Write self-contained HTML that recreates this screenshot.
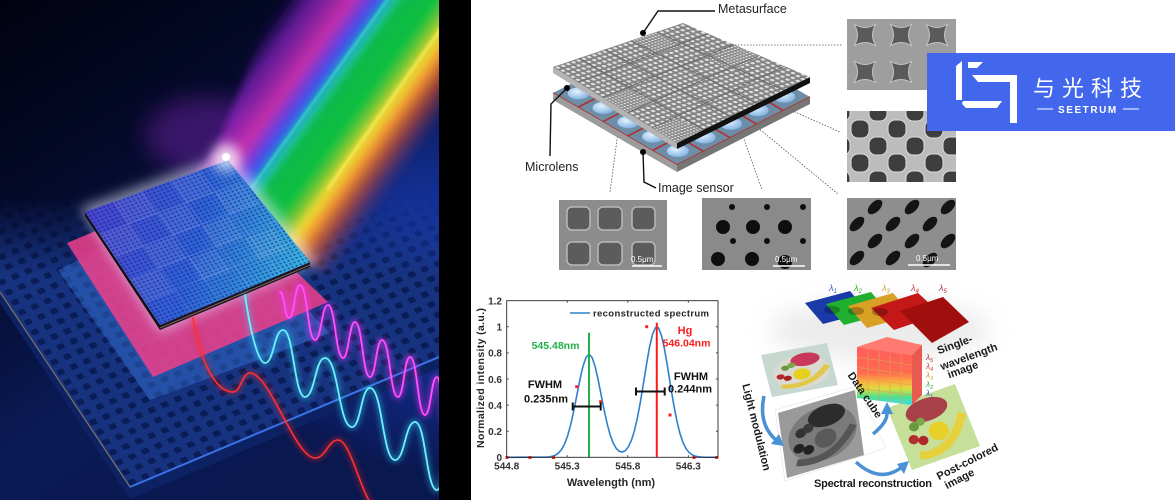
<!DOCTYPE html>
<html><head><meta charset="utf-8">
<style>
html,body{margin:0;padding:0;background:#fff;}
svg{display:block}
text{font-family:"Liberation Sans","Noto Sans CJK SC",sans-serif;}
</style></head><body>
<svg width="1175" height="500" viewBox="0 0 1175 500" xmlns="http://www.w3.org/2000/svg">
<defs>
  <clipPath id="clipL"><rect x="0" y="0" width="439" height="500"/></clipPath>
  <linearGradient id="bgL" x1="0" y1="0" x2="0.55" y2="1">
    <stop offset="0" stop-color="#010210"/>
    <stop offset="0.35" stop-color="#040a2a"/>
    <stop offset="0.7" stop-color="#0a1a55"/>
    <stop offset="1" stop-color="#0a1850"/>
  </linearGradient>
  <radialGradient id="blueGlow" cx="430" cy="270" r="200" gradientUnits="userSpaceOnUse">
    <stop offset="0" stop-color="#1c42c4" stop-opacity="0.95"/>
    <stop offset="0.5" stop-color="#1636a8" stop-opacity="0.6"/>
    <stop offset="1" stop-color="#1838b8" stop-opacity="0"/>
  </radialGradient>
  <linearGradient id="beam" gradientUnits="userSpaceOnUse" x1="186.5" y1="134.3" x2="356.8" y2="257">
    <stop offset="0" stop-color="#5010a0" stop-opacity="0"/>
    <stop offset="0.1" stop-color="#8020c0" stop-opacity="0.7"/>
    <stop offset="0.26" stop-color="#d030b0" stop-opacity="0.95"/>
    <stop offset="0.333" stop-color="#6040e0"/>
    <stop offset="0.38" stop-color="#2a60e8"/>
    <stop offset="0.42" stop-color="#20c8b0"/>
    <stop offset="0.46" stop-color="#10b848"/>
    <stop offset="0.595" stop-color="#10c040"/>
    <stop offset="0.667" stop-color="#90c830"/>
    <stop offset="0.7" stop-color="#f0e030"/>
    <stop offset="0.762" stop-color="#f09030"/>
    <stop offset="0.833" stop-color="#d05030" stop-opacity="0.7"/>
    <stop offset="0.95" stop-color="#803060" stop-opacity="0"/>
  </linearGradient>
  <linearGradient id="chipFace" gradientUnits="userSpaceOnUse" x1="85" y1="212" x2="310" y2="262">
    <stop offset="0" stop-color="#4a44d0"/>
    <stop offset="0.5" stop-color="#2f62d8"/>
    <stop offset="1" stop-color="#38b8e0"/>
  </linearGradient>
  <linearGradient id="maskGrad" x1="0" y1="195" x2="0" y2="275" gradientUnits="userSpaceOnUse">
    <stop offset="0" stop-color="#000"/>
    <stop offset="1" stop-color="#fff"/>
  </linearGradient>
  <mask id="slabMask" maskUnits="userSpaceOnUse" x="0" y="0" width="439" height="500">
    <rect x="0" y="0" width="439" height="500" fill="url(#maskGrad)"/>
  </mask>
  <pattern id="slabDots" patternUnits="userSpaceOnUse" width="10" height="10" patternTransform="matrix(1.3,-0.55,0.65,1.0,0,290)">
    <rect width="10" height="10" fill="#17337f"/>
    <rect x="2" y="2" width="5" height="5" rx="1" fill="#0b1d58"/>
  </pattern>
  <pattern id="chipDots" patternUnits="userSpaceOnUse" width="4" height="4" patternTransform="matrix(1,-0.363,0.52,0.785,85,212)">
    <circle cx="2" cy="2" r="1.1" fill="#101a70" fill-opacity="0.55"/>
  </pattern>
  <pattern id="plateDots" patternUnits="userSpaceOnUse" width="10" height="10" patternTransform="matrix(0.52,-0.176,0.496,0.304,553,67)">
    <rect width="10" height="10" fill="#848484"/>
    <circle cx="5" cy="5" r="3.1" fill="#e2e2e2"/>
  </pattern>
  <pattern id="plateDots2" patternUnits="userSpaceOnUse" width="6" height="6" patternTransform="matrix(0.52,-0.176,0.496,0.304,553,67)">
    <rect width="6" height="6" fill="#8a8a8a"/>
    <circle cx="3" cy="3" r="1.8" fill="#e8e8e8"/>
  </pattern>
  <filter id="blur6" x="-50%" y="-50%" width="200%" height="200%"><feGaussianBlur stdDeviation="6"/></filter>
  <filter id="blur4" x="-50%" y="-50%" width="200%" height="200%"><feGaussianBlur stdDeviation="4"/></filter>
  <filter id="blur3" x="-50%" y="-50%" width="200%" height="200%"><feGaussianBlur stdDeviation="3"/></filter>
  <filter id="blur1" x="-50%" y="-50%" width="200%" height="200%"><feGaussianBlur stdDeviation="1.2"/></filter>
  <filter id="blur12" x="-50%" y="-50%" width="200%" height="200%"><feGaussianBlur stdDeviation="12"/></filter>
  <linearGradient id="cubeFront" x1="0" y1="0" x2="0" y2="1">
    <stop offset="0" stop-color="#ff5c5c"/>
    <stop offset="0.45" stop-color="#ff6a50"/>
    <stop offset="0.6" stop-color="#ffae40"/>
    <stop offset="0.72" stop-color="#d8e040"/>
    <stop offset="0.86" stop-color="#50e090"/>
    <stop offset="1" stop-color="#40dce8"/>
  </linearGradient>
  <radialGradient id="lens" cx="0.4" cy="0.35" r="0.7">
    <stop offset="0" stop-color="#e4f2ff"/>
    <stop offset="1" stop-color="#7eb0e0"/>
  </radialGradient>
</defs>

<rect width="1175" height="500" fill="#fff"/>

<!-- ============ LEFT ILLUSTRATION ============ -->
<g clip-path="url(#clipL)">
  <rect x="0" y="0" width="439" height="500" fill="url(#bgL)"/>
  <rect x="0" y="0" width="439" height="500" fill="url(#blueGlow)"/>
  <polygon points="0,190 439,190 439,357 130,487 0,292" fill="url(#slabDots)" mask="url(#slabMask)"/>
  <polygon points="0,292 130,487 439,357 439,368 130,499 0,303" fill="#0c2262"/>
  <polyline points="0,292 130,487" stroke="#b09060" stroke-width="1.2" fill="none" opacity="0.7"/>
  <polyline points="130,487 439,357" stroke="#3a72e8" stroke-width="2" fill="none"/>
  <ellipse cx="205" cy="135" rx="60" ry="38" fill="#7a20b0" opacity="0.45" filter="url(#blur12)"/>
  <!-- beam -->
  <polygon points="195,175 215,150 280,-10 475,-10 475,185 330,278 312,265" fill="url(#beam)" filter="url(#blur4)"/>
  <line x1="393" y1="-8" x2="250" y2="190" stroke="#40f0c0" stroke-width="2" opacity="0.8" filter="url(#blur1)"/>
  <line x1="447" y1="20" x2="327" y2="190" stroke="#fff060" stroke-width="2.5" opacity="0.85" filter="url(#blur1)"/>
  <!-- blue layer -->
  <polygon points="58,270 200,200 330,333 150,400" fill="#3a7ae0" opacity="0.42"/>
  <!-- pink layer -->
  <polygon points="67,243 205,185 328,302 153,377" fill="#ee3f8a" opacity="0.85"/>
  <polygon points="80,208 230,152 318,262 160,333" fill="#e8e8ff" opacity="0.55" filter="url(#blur6)"/>
  <!-- chip -->
  <polygon points="85,212 160,325 160,330 85,216" fill="#111"/>
  <polygon points="160,325 310,262 310,267 160,330" fill="#151530"/>
  <polyline points="160,328 310,265" stroke="#e0a040" stroke-width="0.8" opacity="0.7"/>
  <polygon points="85,212 228,160 310,262 160,325" fill="url(#chipFace)"/>
  <g fill="#ffffff" opacity="0.08">
    <polygon points="113.6,201.6 142.2,191.2 157.2,213.8 128.6,224.2"/>
    <polygon points="170.8,180.8 199.4,170.4 214.4,193 185.8,203.4"/>
    <polygon points="100,234.6 128.6,224.2 143.6,246.8 115,257.2"/>
    <polygon points="157.2,213.8 185.8,203.4 200.8,226 172.2,236.4"/>
    <polygon points="214.4,193 243,182.6 258,205.2 229.4,215.6"/>
    <polygon points="143.6,246.8 172.2,236.4 187.2,259 158.6,269.4"/>
    <polygon points="200.8,226 229.4,215.6 244.4,238.2 215.8,248.6"/>
    <polygon points="130,279.8 158.6,269.4 173.6,292 145,302.4"/>
    <polygon points="187.2,259 215.8,248.6 230.8,271.2 202.2,281.6"/>
    <polygon points="244.4,238.2 273,227.8 288,250.4 259.4,260.8"/>
  </g>
  <polygon points="85,212 228,160 310,262 160,325" fill="url(#chipDots)"/>
  <g stroke="#c0d8ff" stroke-opacity="0.18" stroke-width="0.8">
    <line x1="113.6" y1="201.6" x2="190" y2="312.4"/>
    <line x1="142.2" y1="191.2" x2="220" y2="299.8"/>
    <line x1="170.8" y1="180.8" x2="250" y2="287.2"/>
    <line x1="199.4" y1="170.4" x2="280" y2="274.6"/>
    <line x1="100" y1="234.6" x2="244.4" y2="180.4"/>
    <line x1="115" y1="257.2" x2="260.8" y2="200.8"/>
    <line x1="130" y1="279.8" x2="277.2" y2="221.2"/>
    <line x1="145" y1="302.4" x2="293.6" y2="241.6"/>
  </g>
  <circle cx="226" cy="157" r="14" fill="#ffffff" opacity="0.7" filter="url(#blur6)"/>
  <circle cx="226" cy="157" r="4" fill="#ffffff"/>
  <g fill="none" stroke-linecap="round">
    <path d="M280,292 C284.5,292 284.5,318 289,318 C294.5,318 294.5,285 300,285 C307.5,285 307.5,340 315,340 C321.5,340 321.5,305 328,305 C335.5,305 335.5,358 343,358 C349,358 349,322 355,322 C362.5,322 362.5,377 370,377 C376,377 376,340 382,340 C390,340 390,397 398,397 C404,397 404,357 410,357 C417.5,357 417.5,415 425,415 C431,415 431,377 437,377 C442,377 442,430 447,430" stroke="#ff30ff" stroke-width="5" opacity="0.5" filter="url(#blur3)"/>
    <path d="M280,292 C284.5,292 284.5,318 289,318 C294.5,318 294.5,285 300,285 C307.5,285 307.5,340 315,340 C321.5,340 321.5,305 328,305 C335.5,305 335.5,358 343,358 C349,358 349,322 355,322 C362.5,322 362.5,377 370,377 C376,377 376,340 382,340 C390,340 390,397 398,397 C404,397 404,357 410,357 C417.5,357 417.5,415 425,415 C431,415 431,377 437,377 C442,377 442,430 447,430" stroke="#ff50ff" stroke-width="1.8"/>
    <path d="M245,295 C250,330 258,363 265,363 C274,363 274,330 283,330 C294,330 294,397 305,397 C315,397 315,358 325,358 C338.5,358 338.5,427 352,427 C361,427 361,388 370,388 C382.5,388 382.5,460 395,460 C405,460 405,422 415,422 C426,422 426,490 437,490 C443,490 443,460 450,460" stroke="#30e0ff" stroke-width="5" opacity="0.45" filter="url(#blur3)"/>
    <path d="M245,295 C250,330 258,363 265,363 C274,363 274,330 283,330 C294,330 294,397 305,397 C315,397 315,358 325,358 C338.5,358 338.5,427 352,427 C361,427 361,388 370,388 C382.5,388 382.5,460 395,460 C405,460 405,422 415,422 C426,422 426,490 437,490 C443,490 443,460 450,460" stroke="#6cf0ff" stroke-width="1.8"/>
    <path d="M193,318 C200,360 215,392 233,392 C241,392 242,373 250,373 C270,373 295,458 315,458 C326,458 328,440 338,440 C350,440 360,490 372,505" stroke="#ff2020" stroke-width="4" opacity="0.5" filter="url(#blur3)"/>
    <path d="M193,318 C200,360 215,392 233,392 C241,392 242,373 250,373 C270,373 295,458 315,458 C326,458 328,440 338,440 C350,440 360,490 372,505" stroke="#ff3030" stroke-width="1.6"/>
  </g>
</g>

<rect x="439" y="0" width="32" height="500" fill="#000"/>

<!-- ============ METASURFACE DIAGRAM ============ -->
<g stroke="#555" stroke-width="0.8" stroke-dasharray="1.5,1.5" fill="none">
  <line x1="627" y1="45" x2="843" y2="45"/>
  <line x1="660" y1="52" x2="840" y2="132"/>
  <line x1="700" y1="80" x2="838" y2="194"/>
  <line x1="730" y1="100" x2="762" y2="190"/>
  <line x1="623" y1="95" x2="610" y2="192"/>
</g>
<polygon points="553,93 686,25 810,97 677,165" fill="#6d8ea6"/>
<g stroke="#b03030" stroke-width="1.6">
  <line x1="553" y1="93" x2="677" y2="165"/>
  <line x1="677" y1="165" x2="810" y2="97"/>
  <line x1="577.8" y1="107.4" x2="711" y2="39.4"/>
  <line x1="602.6" y1="121.8" x2="735.8" y2="53.8"/>
  <line x1="627.4" y1="136.2" x2="760.6" y2="68.2"/>
  <line x1="652.2" y1="150.6" x2="785.4" y2="82.6"/>
  <line x1="703.6" y1="151.4" x2="579.6" y2="79.4"/>
  <line x1="730.2" y1="137.8" x2="606.2" y2="65.8"/>
  <line x1="756.8" y1="124.2" x2="632.8" y2="52.2"/>
  <line x1="783.4" y1="110.6" x2="659.4" y2="38.6"/>
</g>
<g fill="url(#lens)">
  <ellipse cx="578.7" cy="93.4" rx="11" ry="6"/>
  <ellipse cx="603.5" cy="107.8" rx="11" ry="6"/>
  <ellipse cx="628.3" cy="122.2" rx="11" ry="6"/>
  <ellipse cx="653.1" cy="136.6" rx="11" ry="6"/>
  <ellipse cx="677.9" cy="151" rx="11" ry="6"/>
  <ellipse cx="704.5" cy="137.4" rx="11" ry="6"/>
  <ellipse cx="731.1" cy="123.8" rx="11" ry="6"/>
  <ellipse cx="757.7" cy="110.2" rx="11" ry="6"/>
  <ellipse cx="784.3" cy="96.6" rx="11" ry="6"/>
</g>
<polygon points="553,93 677,165 677,172 553,100" fill="#9c9c9c"/>
<polygon points="677,165 810,97 810,104 677,172" fill="#767676"/>
<polygon points="553,67 677,143 677,149 553,73" fill="#b4b4b4"/>
<polygon points="677,143 810,77 810,83 677,149" fill="#111"/>
<polygon points="553,67 683,23 810,77 677,143" fill="url(#plateDots)"/>
<g fill="url(#plateDots2)">
  <polygon points="631,40.6 657,31.8 681.8,47 655.8,55.8"/>
  <polygon points="602.6,97.4 628.6,88.6 653.6,103 627.4,112.6"/>
  <polygon points="733.8,44.6 759.2,55.4 734.4,70.6 708.4,59.8"/>
  <polygon points="652.2,127.8 678.2,119 703.6,129.8 677,143"/>
</g>
<g stroke="#6a6a6a" stroke-width="1">
  <line x1="579" y1="58.2" x2="703.6" y2="129.8"/>
  <line x1="605" y1="49.4" x2="730.2" y2="116.6"/>
  <line x1="631" y1="40.6" x2="756.8" y2="103.4"/>
  <line x1="657" y1="31.8" x2="783.4" y2="90.2"/>
  <line x1="577.8" y1="82.2" x2="708.4" y2="33.8"/>
  <line x1="602.6" y1="97.4" x2="733.8" y2="44.6"/>
  <line x1="627.4" y1="112.6" x2="759.2" y2="55.4"/>
  <line x1="652.2" y1="127.8" x2="784.6" y2="66.2"/>
</g>
<g stroke="#111" stroke-width="1.4" fill="none">
  <polyline points="715,11 658,11 643,33"/>
  <polyline points="567,88 551,104 550,156"/>
  <polyline points="643,152 644,182 656,188"/>
</g>
<circle cx="643" cy="33" r="3" fill="#000"/>
<circle cx="567" cy="88" r="3" fill="#000"/>
<circle cx="643" cy="152" r="3" fill="#000"/>
<text x="718" y="13" font-size="12.5" fill="#222">Metasurface</text>
<text x="525" y="171" font-size="12.5" fill="#222">Microlens</text>
<text x="658" y="192" font-size="12.5" fill="#222">Image sensor</text>

<g>
  <rect x="559" y="200" width="108" height="70" fill="#8c8c8c"/>
  <g fill="#5c5c5c" stroke="#b8b8b8" stroke-width="1.5">
    <rect x="567" y="207" width="23" height="23" rx="5"/>
    <rect x="598" y="207" width="24" height="23" rx="5"/>
    <rect x="632" y="207" width="23" height="23" rx="5"/>
    <rect x="567" y="242" width="23" height="23" rx="5"/>
    <rect x="598" y="242" width="24" height="23" rx="5"/>
    <rect x="632" y="242" width="23" height="23" rx="5"/>
  </g>
  <line x1="632" y1="266" x2="662" y2="266" stroke="#fff" stroke-width="1.5"/>
  <text x="631" y="262" font-size="8" fill="#fff">0.5μm</text>
</g>
<g>
  <rect x="702" y="198" width="109" height="72" fill="#8a8a8a"/>
  <g fill="#0e0e0e">
    <circle cx="723" cy="227" r="7"/><circle cx="753" cy="227" r="7"/><circle cx="785" cy="227" r="7"/>
    <circle cx="718" cy="259" r="7"/><circle cx="752" cy="259" r="7"/><circle cx="785" cy="262" r="7"/>
    <circle cx="732" cy="207" r="3"/><circle cx="767" cy="207" r="3"/><circle cx="803" cy="207" r="3"/>
    <circle cx="733" cy="241" r="3"/><circle cx="767" cy="241" r="3"/><circle cx="803" cy="241" r="3"/>
  </g>
  <line x1="773" y1="266" x2="805" y2="266" stroke="#fff" stroke-width="1.5"/>
  <text x="775" y="262" font-size="8" fill="#fff">0.5μm</text>
</g>
<g>
  <rect x="847" y="19" width="109" height="71" fill="#9e9e9e"/>
  <g fill="#5a5a5a" stroke="#c4c4c4" stroke-width="1">
    <path transform="translate(865,35)" d="M-11,-11 Q0,-4 11,-11 Q4,0 11,11 Q0,4 -11,11 Q-4,0 -11,-11Z"/>
    <path transform="translate(901,35)" d="M-11,-11 Q0,-4 11,-11 Q4,0 11,11 Q0,4 -11,11 Q-4,0 -11,-11Z"/>
    <path transform="translate(937,35)" d="M-11,-11 Q0,-4 11,-11 Q4,0 11,11 Q0,4 -11,11 Q-4,0 -11,-11Z"/>
    <path transform="translate(865,72)" d="M-11,-11 Q0,-4 11,-11 Q4,0 11,11 Q0,4 -11,11 Q-4,0 -11,-11Z"/>
    <path transform="translate(901,72)" d="M-11,-11 Q0,-4 11,-11 Q4,0 11,11 Q0,4 -11,11 Q-4,0 -11,-11Z"/>
  </g>
</g>
<g>
  <rect x="847" y="111" width="109" height="71" fill="#bcbcbc"/>
  <clipPath id="c2"><rect x="847" y="111" width="109" height="71"/></clipPath>
  <g clip-path="url(#c2)" fill="#3e3e3e" stroke="#dcdcdc" stroke-width="1">
    <rect x="832" y="103" width="18" height="18" rx="7"/><rect x="869" y="103" width="18" height="18" rx="7"/><rect x="906" y="103" width="18" height="18" rx="7"/><rect x="943" y="103" width="18" height="18" rx="7"/>
    <rect x="851" y="120" width="18" height="18" rx="7"/><rect x="888" y="120" width="18" height="18" rx="7"/><rect x="925" y="120" width="18" height="18" rx="7"/>
    <rect x="832" y="137" width="18" height="18" rx="7"/><rect x="869" y="137" width="18" height="18" rx="7"/><rect x="906" y="137" width="18" height="18" rx="7"/><rect x="943" y="137" width="18" height="18" rx="7"/>
    <rect x="851" y="154" width="18" height="18" rx="7"/><rect x="888" y="154" width="18" height="18" rx="7"/><rect x="925" y="154" width="18" height="18" rx="7"/>
    <rect x="832" y="171" width="18" height="18" rx="7"/><rect x="869" y="171" width="18" height="18" rx="7"/><rect x="906" y="171" width="18" height="18" rx="7"/><rect x="943" y="171" width="18" height="18" rx="7"/>
  </g>
</g>
<g>
  <rect x="847" y="198" width="109" height="72" fill="#8e8e8e"/>
  <clipPath id="c3"><rect x="847" y="198" width="109" height="72"/></clipPath>
  <g clip-path="url(#c3)" fill="#141414">
    <ellipse cx="875" cy="207" rx="9" ry="5" transform="rotate(-45 875 207)"/>
    <ellipse cx="912" cy="207" rx="9" ry="5" transform="rotate(-45 912 207)"/>
    <ellipse cx="948" cy="207" rx="9" ry="5" transform="rotate(-45 948 207)"/>
    <ellipse cx="857" cy="224" rx="9" ry="5" transform="rotate(-45 857 224)"/>
    <ellipse cx="893" cy="224" rx="9" ry="5" transform="rotate(-45 893 224)"/>
    <ellipse cx="930" cy="224" rx="9" ry="5" transform="rotate(-45 930 224)"/>
    <ellipse cx="875" cy="241" rx="9" ry="5" transform="rotate(-45 875 241)"/>
    <ellipse cx="912" cy="241" rx="9" ry="5" transform="rotate(-45 912 241)"/>
    <ellipse cx="948" cy="241" rx="9" ry="5" transform="rotate(-45 948 241)"/>
    <ellipse cx="857" cy="258" rx="9" ry="5" transform="rotate(-45 857 258)"/>
    <ellipse cx="893" cy="258" rx="9" ry="5" transform="rotate(-45 893 258)"/>
    <ellipse cx="930" cy="260" rx="9" ry="5" transform="rotate(-45 930 260)"/>
  </g>
  <line x1="908" y1="265" x2="950" y2="265" stroke="#fff" stroke-width="1.5"/>
  <text x="916" y="261" font-size="8" fill="#fff">0.5μm</text>
</g>

<!-- ============ LOGO ============ -->
<rect x="927" y="53" width="248" height="78" fill="#4267ec"/>
<g fill="#fff">
  <polygon points="956,66 962,61 962,100 956,100"/>
  <polygon points="963,101 1002,101 997,108 966,108 962,104"/>
  <polygon points="968,62 983,62 977,68 968,68"/>
  <polygon points="972,75 1017,75 1017,123 1010,123 1010,82 978,82"/>
</g>
<text x="1033" y="96" font-size="22" fill="#fff" letter-spacing="7" font-family="'Noto Sans CJK SC','WenQuanYi Zen Hei',sans-serif">与光科技</text>
<line x1="1037" y1="109" x2="1053" y2="109" stroke="#fff" stroke-width="1"/>
<line x1="1123" y1="109" x2="1139" y2="109" stroke="#fff" stroke-width="1"/>
<text x="1058" y="113" font-size="10" font-weight="bold" fill="#fff" letter-spacing="0.8" textLength="59">SEETRUM</text>

<!-- ============ SPECTRUM CHART ============ -->
<g>
  <path fill="none" stroke="#2f80cc" stroke-width="1.6" d="M506.7,457.3 L546.65,457.08 L549.68,456.79 L552.7,456.18 L555.73,454.99 L558.76,452.82 L561.79,449.17 L564.81,443.45 L567.84,435.13 L570.87,423.98 L573.89,410.24 L576.92,394.92 L579.95,379.56 L582.97,366.34 L586,357.39 L589.03,354.2 L592.05,357.39 L595.08,366.34 L598.11,379.56 L601.13,394.92 L604.16,410.24 L607.19,423.98 L610.21,434.98 L613.24,443.14 L616.27,448.47 L619.3,451.34 L622.32,452.01 L625.35,450.58 L628.38,446.82 L631.4,440.34 L634.43,430.68 L637.46,417.63 L640.48,401.46 L643.51,383.02 L646.54,364.08 L649.56,346.95 L652.59,334.04 L655.62,327.41 L656.83,326.8 L658.64,328.16 L661.67,336.17 L664.7,350.11 L667.72,367.82 L670.75,386.82 L673.78,404.92 L676.8,420.58 L679.83,433 L682.86,442.15 L685.88,448.37 L688.91,452.34 L691.94,454.7 L694.96,456.02 L697.99,456.7 L701.02,457.04 L704,457.2 L718,457.3"/>
  <line x1="589" y1="457.3" x2="589" y2="332.7" stroke="#22b04a" stroke-width="2"/>
  <line x1="656.8" y1="457.3" x2="656.8" y2="322.7" stroke="#ff1a1a" stroke-width="2"/>
  <g fill="#ff2020">
    <rect x="505.5" y="456" width="3" height="3"/><rect x="528.5" y="456" width="3" height="3"/><rect x="552" y="456" width="3" height="3"/>
    <rect x="575.2" y="385.2" width="3" height="3"/><rect x="599.2" y="400.2" width="3" height="3"/>
    <rect x="645.2" y="325.2" width="3" height="3"/><rect x="668.5" y="413.5" width="3" height="3"/>
    <rect x="692.5" y="456" width="3" height="3"/><rect x="715.2" y="456" width="3" height="3"/>
  </g>
  <g stroke="#111" stroke-width="2">
    <line x1="572.7" y1="406.5" x2="600.7" y2="406.5"/>
    <line x1="572.7" y1="402.5" x2="572.7" y2="410.5"/>
    <line x1="600.7" y1="402.5" x2="600.7" y2="410.5"/>
    <line x1="636" y1="391.5" x2="664.7" y2="391.5"/>
    <line x1="636" y1="387.5" x2="636" y2="395.5"/>
    <line x1="664.7" y1="387.5" x2="664.7" y2="395.5"/>
  </g>
  <rect x="506.7" y="300.7" width="211.3" height="156.6" fill="none" stroke="#262626" stroke-width="0.9"/>
  <g stroke="#262626" stroke-width="0.8">
    <line x1="506.7" y1="431.2" x2="508.8" y2="431.2"/><line x1="506.7" y1="405.1" x2="508.8" y2="405.1"/>
    <line x1="506.7" y1="379" x2="508.8" y2="379"/><line x1="506.7" y1="352.9" x2="508.8" y2="352.9"/>
    <line x1="506.7" y1="326.8" x2="508.8" y2="326.8"/>
    <line x1="718" y1="431.2" x2="715.9" y2="431.2"/><line x1="718" y1="405.1" x2="715.9" y2="405.1"/>
    <line x1="718" y1="379" x2="715.9" y2="379"/><line x1="718" y1="352.9" x2="715.9" y2="352.9"/>
    <line x1="718" y1="326.8" x2="715.9" y2="326.8"/>
    <line x1="567.2" y1="457.3" x2="567.2" y2="455.2"/><line x1="627.8" y1="457.3" x2="627.8" y2="455.2"/>
    <line x1="688.3" y1="457.3" x2="688.3" y2="455.2"/>
    <line x1="567.2" y1="300.7" x2="567.2" y2="302.8"/><line x1="627.8" y1="300.7" x2="627.8" y2="302.8"/>
    <line x1="688.3" y1="300.7" x2="688.3" y2="302.8"/>
  </g>
  <g font-size="10" font-weight="bold" fill="#333" text-anchor="end">
    <text x="502" y="304.5">1.2</text>
    <text x="502" y="330.6">1</text>
    <text x="502" y="356.7">0.8</text>
    <text x="502" y="382.8">0.6</text>
    <text x="502" y="408.9">0.4</text>
    <text x="502" y="435">0.2</text>
    <text x="502" y="461.1">0</text>
  </g>
  <g font-size="10" font-weight="bold" fill="#333" text-anchor="middle">
    <text x="506.7" y="469.5">544.8</text>
    <text x="567.2" y="469.5">545.3</text>
    <text x="627.8" y="469.5">545.8</text>
    <text x="688.3" y="469.5">546.3</text>
  </g>
  <text x="611" y="486" font-size="11" font-weight="bold" fill="#262626" text-anchor="middle">Wavelength (nm)</text>
  <text transform="translate(484,378) rotate(-90)" font-size="10.5" font-weight="bold" fill="#262626" text-anchor="middle" textLength="140">Normalized intensity (a.u.)</text>
  <line x1="570" y1="313" x2="590" y2="313" stroke="#2f80cc" stroke-width="1.6"/>
  <text x="593" y="316.5" font-size="9.5" font-weight="bold" fill="#262626" textLength="116">reconstructed spectrum</text>
  <text x="555.5" y="349" font-size="10.5" font-weight="bold" fill="#22b04a" text-anchor="middle">545.48nm</text>
  <text x="685" y="334" font-size="11" font-weight="bold" fill="#ff1a1a" text-anchor="middle">Hg</text>
  <text x="686.5" y="346.5" font-size="10.5" font-weight="bold" fill="#ff1a1a" text-anchor="middle">546.04nm</text>
  <text x="545" y="388" font-size="11" font-weight="bold" fill="#111" text-anchor="middle">FWHM</text>
  <text x="546" y="402.5" font-size="11" font-weight="bold" fill="#111" text-anchor="middle">0.235nm</text>
  <text x="691" y="380" font-size="11" font-weight="bold" fill="#111" text-anchor="middle">FWHM</text>
  <text x="690" y="392.5" font-size="11" font-weight="bold" fill="#111" text-anchor="middle">0.244nm</text>
</g>

<!-- ============ DATA CUBE ILLUSTRATION ============ -->
<ellipse cx="880" cy="330" rx="110" ry="30" fill="#d8d8d8" opacity="0.5" filter="url(#blur12)"/>
<polygon points="805,303 850,291 868,312 823,324" fill="#1a3aa8"/>
<polygon points="826,304 871,292 889,313 844,325" fill="#20b030"/>
<polygon points="848,306 893,293 912,315 867,328" fill="#d8a024"/>
<polygon points="871,308 918,293 941,314 894,330" fill="#c41818"/>
<polygon points="900,311 943,297 969,322 932,343" fill="#a00e0e"/>
<g fill="#000" opacity="0.25">
  <ellipse cx="832" cy="310" rx="8" ry="4"/><ellipse cx="856" cy="311" rx="8" ry="4"/><ellipse cx="880" cy="312" rx="8" ry="4"/>
</g>
<g font-size="9" font-style="italic">
  <text x="829" y="291" fill="#3060c0">λ<tspan font-size="6" dy="2">1</tspan></text>
  <text x="854" y="291" fill="#30b030">λ<tspan font-size="6" dy="2">2</tspan></text>
  <text x="882" y="291" fill="#d0a030">λ<tspan font-size="6" dy="2">3</tspan></text>
  <text x="911" y="291" fill="#d03030">λ<tspan font-size="6" dy="2">4</tspan></text>
  <text x="939" y="291" fill="#b03030">λ<tspan font-size="6" dy="2">5</tspan></text>
</g>
<g transform="matrix(0.66,-0.12,0.11,0.42,761,355)">
  <rect x="0" y="0" width="100" height="100" fill="#c6d8cf"/>
  <ellipse cx="52" cy="55" rx="42" ry="38" fill="#dadad0"/>
  <ellipse cx="62" cy="28" rx="22" ry="15" fill="#c8385a"/>
  <circle cx="30" cy="40" r="6" fill="#6a9a40"/><circle cx="40" cy="36" r="6" fill="#7aa848"/>
  <circle cx="20" cy="58" r="6" fill="#b02828"/><circle cx="30" cy="64" r="6" fill="#a82020"/>
  <path d="M18,80 Q60,95 92,50" stroke="#e2c84a" stroke-width="10" fill="none"/>
  <circle cx="52" cy="60" r="13" fill="#e8d020"/>
</g>
<polygon points="775,410 857,386 886,448 785,481" fill="#fff" stroke="#ddd" stroke-width="0.5"/>
<g transform="matrix(0.77,-0.23,0.09,0.65,778,413)">
  <rect x="0" y="0" width="100" height="100" fill="#9a9a9a"/>
  <ellipse cx="52" cy="50" rx="44" ry="40" fill="#7a7a7a"/>
  <ellipse cx="60" cy="25" rx="24" ry="16" fill="#2c2c2c"/>
  <circle cx="25" cy="40" r="7" fill="#333"/><circle cx="35" cy="36" r="7" fill="#3a3a3a"/>
  <circle cx="20" cy="62" r="7" fill="#222"/><circle cx="32" cy="68" r="7" fill="#222"/>
  <circle cx="55" cy="58" r="14" fill="#5a5a5a"/>
  <path d="M15,82 Q60,98 92,50" stroke="#555" stroke-width="10" fill="none"/>
</g>
<g transform="matrix(0.68,-0.24,0.25,0.62,887,408)">
  <rect x="0" y="0" width="100" height="100" fill="#c6e09a"/>
  <ellipse cx="50" cy="22" rx="30" ry="17" fill="#a8404a"/>
  <circle cx="25" cy="40" r="7" fill="#6a9a40"/><circle cx="36" cy="36" r="6" fill="#7aa848"/>
  <circle cx="18" cy="58" r="7" fill="#b03030"/><circle cx="30" cy="64" r="7" fill="#b02828"/>
  <circle cx="55" cy="58" r="14" fill="#e8d028"/>
  <path d="M18,84 Q62,98 94,44" stroke="#e6d040" stroke-width="12" fill="none"/>
</g>
<polygon points="857,347 887,337 922,345 912,355" fill="#ff7a70"/>
<polygon points="912,355 922,345 922,395 912,405" fill="#e85a50"/>
<polygon points="857,347 912,355 912,405 857,398" fill="url(#cubeFront)"/>
<g stroke="#e0a050" stroke-width="0.8" opacity="0.85">
  <line x1="868" y1="348.6" x2="868" y2="399.4"/><line x1="879" y1="350.2" x2="879" y2="400.8"/>
  <line x1="890" y1="351.8" x2="890" y2="402.2"/><line x1="901" y1="353.4" x2="901" y2="403.6"/>
  <line x1="857" y1="357.2" x2="912" y2="365"/><line x1="857" y1="367.4" x2="912" y2="375"/>
  <line x1="857" y1="377.6" x2="912" y2="385"/><line x1="857" y1="387.8" x2="912" y2="395"/>
</g>
<g font-size="8" font-style="italic">
  <text x="926" y="360" fill="#b03030">λ<tspan font-size="5.5" dy="2">5</tspan></text>
  <text x="926" y="369" fill="#d04030">λ<tspan font-size="5.5" dy="2">4</tspan></text>
  <text x="926" y="378" fill="#d0a030">λ<tspan font-size="5.5" dy="2">3</tspan></text>
  <text x="926" y="387" fill="#30b040">λ<tspan font-size="5.5" dy="2">2</tspan></text>
  <text x="926" y="396" fill="#3050c0">λ<tspan font-size="5.5" dy="2">1</tspan></text>
</g>
<g fill="none" stroke="#4a90d4" stroke-width="3.5">
  <path d="M764,396 Q758,424 776,440"/>
  <path d="M856,462 Q880,484 902,467"/>
  <path d="M873,434 Q888,422 887,412"/>
</g>
<g fill="#4a90d4">
  <polygon points="784,446 771,444 779,434"/>
  <polygon points="909,461 904,474 897,464"/>
  <polygon points="887,402 893,414 881,414"/>
</g>
<g font-size="11" font-weight="bold" fill="#1a1a1a">
  <text transform="translate(956,348) rotate(-20)" text-anchor="middle">Single-</text>
  <text transform="translate(970,360) rotate(-20)" text-anchor="middle">wavelength</text>
  <text transform="translate(964,373) rotate(-20)" text-anchor="middle">image</text>
  <text transform="translate(862,397) rotate(56)" text-anchor="middle">Data cube</text>
  <text transform="translate(753,428) rotate(76)" text-anchor="middle">Light modulation</text>
  <text x="873" y="487" text-anchor="middle" textLength="118">Spectral reconstruction</text>
  <text transform="translate(969,465) rotate(-27)" text-anchor="middle">Post-colored</text>
  <text transform="translate(961,482) rotate(-27)" text-anchor="middle">image</text>
</g>
</svg>
</body></html>
